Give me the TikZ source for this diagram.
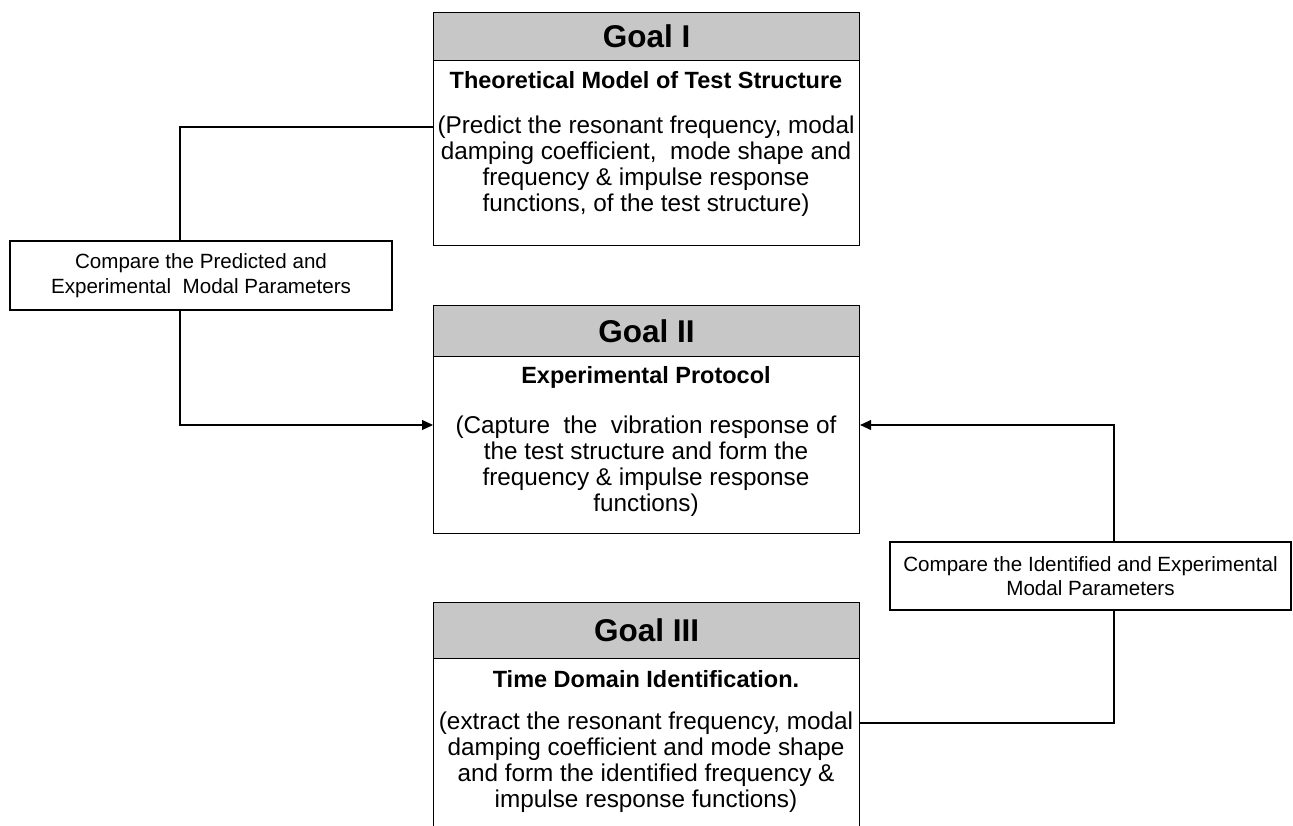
\documentclass[tikz,border=0pt]{standalone}
\usepackage{fontspec}
\setmainfont{Liberation Sans}
\usetikzlibrary{arrows.meta}
\tikzset{
  hdr/.style={draw=black, line width=1.1pt, fill=black!22, inner sep=0pt, anchor=north west},
  bodybox/.style={draw=black, line width=1.1pt, inner sep=0pt, anchor=north west},
  hdrtext/.style={font=\fontsize{31.5}{33}\selectfont\bfseries, inner sep=0pt},
  titletext/.style={font=\fontsize{23.5}{25}\selectfont\bfseries, inner sep=0pt},
  bodytext/.style={font=\fontsize{24.3}{26}\selectfont, align=center, inner sep=0pt},
  cmpbox/.style={draw=black, line width=1.1pt, fill=white, minimum width=382pt, minimum height=69pt, inner sep=0pt, align=center, font=\fontsize{20.6}{24.5}\selectfont},
  conn/.style={line width=1.1pt},
  arr/.style={line width=1.1pt, -{Triangle[length=11pt,width=10pt]}}
}
\begin{document}
\begin{tikzpicture}[x=1pt,y=-1pt]
\useasboundingbox (0,0) rectangle (1293,826);
% Goal I
\node[hdr, minimum width=426pt, minimum height=48pt] (g1h) at (433,12) {};
\node[hdrtext] (g1ht) at (g1h.center) {Goal I};
\node[bodybox, minimum width=426pt, minimum height=185pt] (g1) at (433,60) {};
\node[titletext] (g1t) at (646,80) {Theoretical Model of Test Structure};
\node[bodytext] (g1p) at (646,166) {(Predict the resonant frequency, modal\\damping coefficient,\ \ mode shape and\\frequency \& impulse response\\functions, of the test structure)};
% Goal II
\node[hdr, minimum width=426pt, minimum height=51pt] (g2h) at (433,305) {};
\node[hdrtext] (g2ht) at (g2h.center) {Goal II};
\node[bodybox, minimum width=426pt, minimum height=177pt] (g2) at (433,356) {};
\node[titletext] (g2t) at (646,377) {Experimental Protocol};
\node[bodytext] (g2p) at (646,466) {(Capture\ \ the\ \ vibration response of\\the test structure and form the\\frequency \& impulse response\\functions)};
% Goal III
\node[hdr, minimum width=426pt, minimum height=56pt] (g3h) at (433,602) {};
\node[hdrtext] (g3ht) at (g3h.center) {Goal III};
\node[bodybox, minimum width=426pt, minimum height=200pt] (g3) at (433,658) {};
\node[titletext] (g3t) at (646,679) {Time Domain Identification.};
\node[bodytext] (g3p) at (646,762) {(extract the resonant frequency, modal\\damping coefficient and mode shape\\and form the identified frequency \&\\impulse response functions)};
% compare boxes
\node[cmpbox] (c1) at (201,275.5) {Compare the Predicted and\\Experimental\ \ Modal Parameters};
\node[cmpbox, minimum width=401pt, minimum height=68pt] (c2) at (1090.5,576) {Compare the Identified and Experimental\\Modal Parameters};
% connectors
\coordinate (lt) at (180,127);
\coordinate (lb) at (180,425);
\coordinate (rt) at (1114,425);
\coordinate (rb) at (1114,723);
\draw[conn] (lt -| g1.west) -- (lt) -- (lt |- c1.north);
\draw[arr] (lt |- c1.south) -- (lb) -- (lb -| g2.west);
\draw[conn] (rb -| g3.east) -- (rb) -- (rb |- c2.south);
\draw[arr] (rt |- c2.north) -- (rt) -- (rt -| g2.east);
\end{tikzpicture}
\end{document}
